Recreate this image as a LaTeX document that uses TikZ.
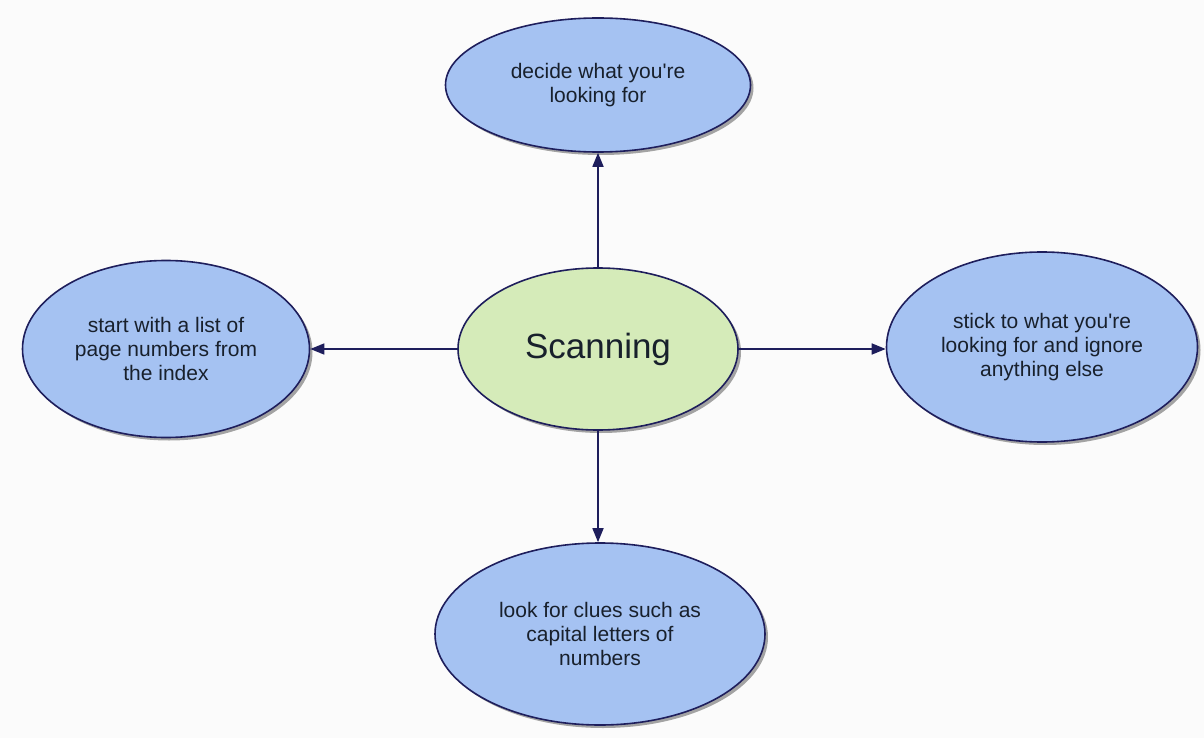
\documentclass[tikz,border=0pt]{standalone}
\usepackage{fontspec}
\setmainfont{Liberation Sans}
\usetikzlibrary{shapes.geometric,arrows.meta,shadows}
\definecolor{bg}{HTML}{FBFBFB}
\definecolor{navy}{HTML}{1E1E5C}
\definecolor{bluefill}{HTML}{A5C2F2}
\definecolor{greenfill}{HTML}{D5EBB9}
\definecolor{txt}{HTML}{18202C}
\tikzset{
  bubble/.style={ellipse, draw=navy, line width=1.6pt, fill=bluefill, inner sep=0pt,
    text=txt, align=center, font=\fontsize{21}{24}\selectfont,
    drop shadow={shadow xshift=3pt, shadow yshift=-3pt, fill=black, opacity=0.35}},
  hub/.style={bubble, fill=greenfill, font=\fontsize{35}{40}\selectfont},
  link/.style={draw=navy, line width=1.6pt, -{Triangle[width=11pt,length=14pt]}}
}
\begin{document}
\begin{tikzpicture}[x=1pt,y=-1pt]
\fill[bg] (0,0) rectangle (1204,738);
\useasboundingbox (0,0) rectangle (1204,738);
\node[hub, minimum width=280pt, minimum height=162pt] (c) at (598,349) {Scanning};
\node[bubble, minimum width=305pt, minimum height=134pt] (t) at (598,85) {decide what you\textquotesingle re\\looking for};
\node[bubble, minimum width=287pt, minimum height=177pt] (l) at (166,349) {start with a list of\\page numbers from\\the index};
\node[bubble, minimum width=311pt, minimum height=190pt] (r) at (1042,347) {stick to what you\textquotesingle re\\looking for and ignore\\anything else};
\node[bubble, minimum width=330pt, minimum height=182pt] (b) at (600,634) {look for clues such as\\capital letters of\\numbers};
\draw[link] (c.north) -- (c.north |- t.south);
\draw[link] (c.south) -- (c.south |- b.north);
\draw[link] (c.west) -- (c.west -| l.east);
\draw[link] (c.east) -- (c.east -| r.west);
\end{tikzpicture}
\end{document}
